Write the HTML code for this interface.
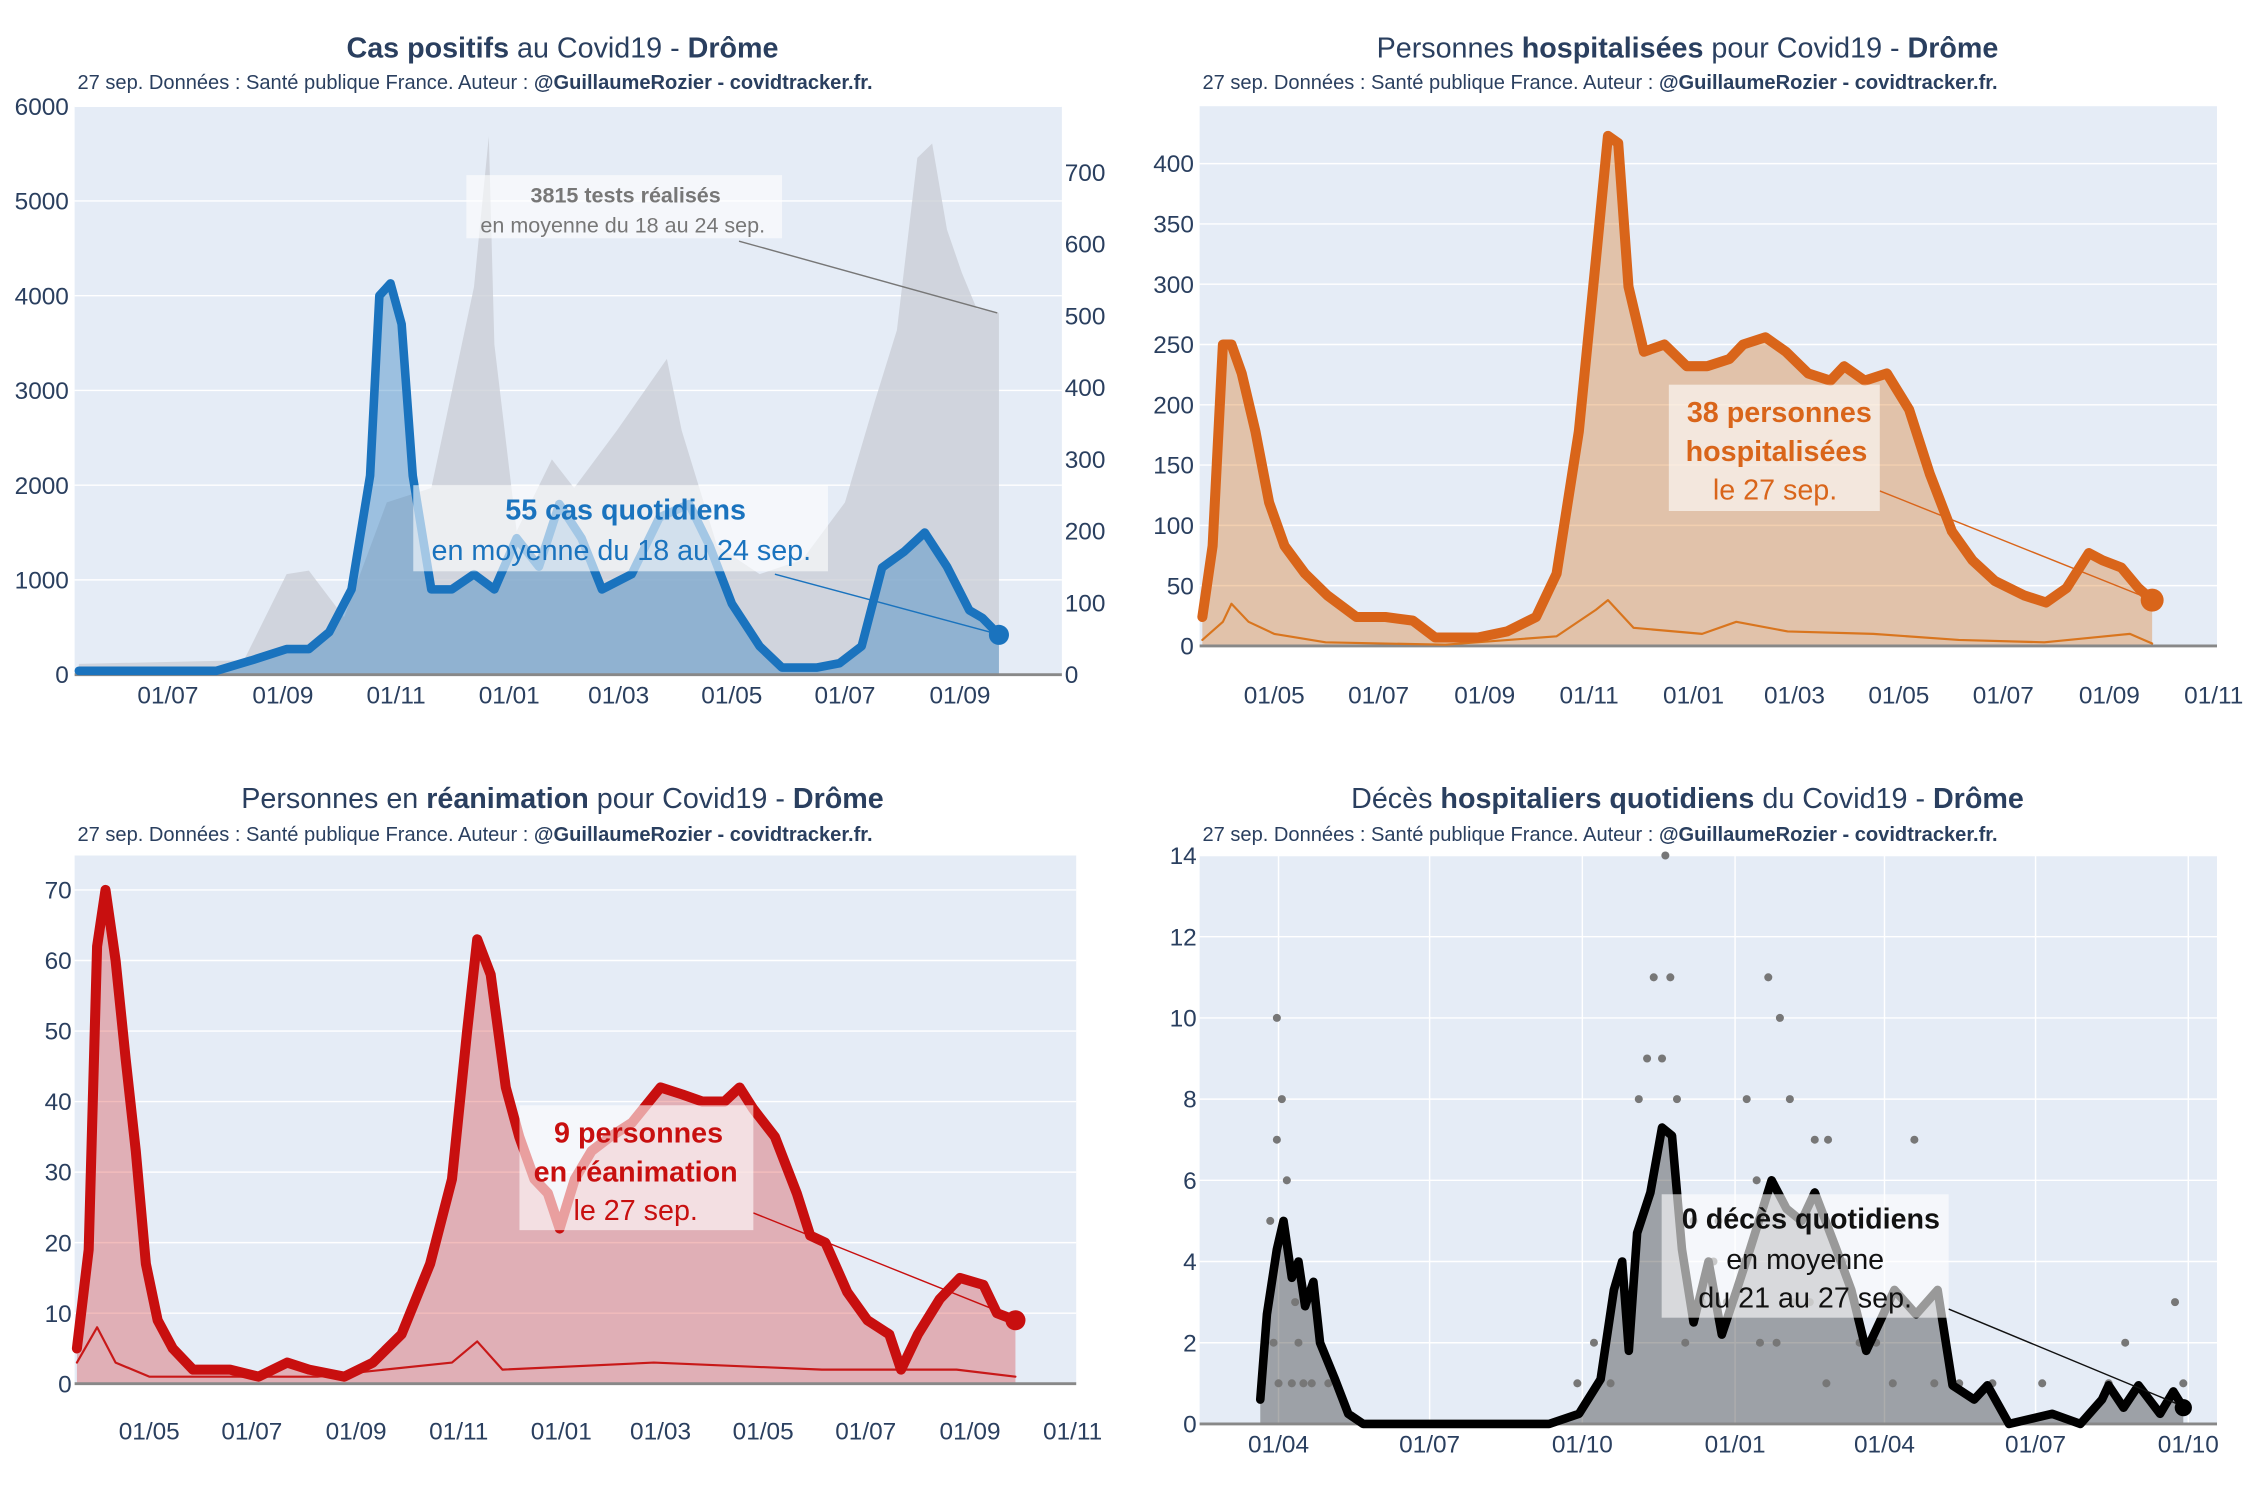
<!DOCTYPE html>
<html><head><meta charset="utf-8">
<style>
html,body{margin:0;padding:0;background:#fff;}
svg{display:block;font-family:"Liberation Sans",sans-serif;}
</style></head>
<body>
<svg id="root" width="2250" height="1500" viewBox="0 0 1568 1045" preserveAspectRatio="none" xmlns="http://www.w3.org/2000/svg"></svg>
<script>
// ===== Chart 1: cases (days since 2020-07-01) =====
const casesDays=[-48,26,45,64,76,87,99,109,114,120,126,132,142,153,165,176,188,200,211,223,234,250,265,281,292,304,319,331,350,362,374,385,397,408,420,432,439,448];
const casesValues=[40,40,150,270,270,450,900,2100,4000,4130,3700,2100,900,900,1060,900,1440,1140,1800,1440,900,1060,1660,1800,1360,750,300,75,75,120,300,1130,1300,1500,1140,680,600,420];
const testsDays=[-48,41,64,76,95,118,142,165,173,176,188,207,219,242,269,277,296,319,342,365,381,393,404,412,420,428,436,448];
const testsValues=[15,20,140,145,80,240,260,540,750,460,200,300,260,340,440,340,180,140,160,240,380,480,720,740,620,560,510,504];
const c1XTicks=["01/07","01/09","01/11","01/01","01/03","01/05","01/07","01/09"];
const c1XTickDays=[0,62,123,184,243,304,365,427];
const c1YTicks=[0,1000,2000,3000,4000,5000,6000];
const c1Y2Ticks=[0,100,200,300,400,500,600,700];
// ===== Chart 2: hospitalised (days since 2020-05-01) =====
const hospDays=[-42,-36,-30,-25,-19,-11,-3,6,18,31,48,65,81,94,119,136,153,165,178,188,195,201,207,216,228,241,253,266,274,287,299,312,325,333,345,358,371,383,396,408,421,438,451,463,476,484,495,505,513];
const hospValues=[24,83,250,250,226,178,119,83,60,42,24,24,21,7,7,12,24,60,178,321,423,417,298,244,250,232,232,238,250,256,244,226,220,232,220,226,196,143,95,71,54,42,36,48,77,71,65,48,38];
const admDays=[-42,-30,-25,-15,0,30,100,165,188,195,210,250,270,300,350,400,450,500,513];
const admValues=[5,20,35,20,10,3,1,8,30,38,15,10,20,12,10,5,3,10,2];
const c2XTicks=["01/05","01/07","01/09","01/11","01/01","01/03","01/05","01/07","01/09","01/11"];
const c2XTickDays=[0,61,123,184,245,304,365,426,488,549];
const c2YTicks=[0,50,100,150,200,250,300,350,400];
// ===== Chart 3: ICU (days since 2020-05-01) =====
const icuDays=[-43,-36,-31,-26,-20,-14,-8,-2,5,14,26,48,65,82,95,116,133,150,167,180,189,195,203,212,220,229,237,244,253,263,274,287,304,317,329,342,351,359,372,385,393,402,415,427,440,447,457,470,482,496,504,515];
const icuValues=[5,19,62,70,60,46,33,17,9,5,2,2,1,3,2,1,3,7,17,29,50,63,58,42,35,29,27,22,29,33,35,37,42,41,40,40,42,39,35,27,21,20,13,9,7,2,7,12,15,14,10,9];
const icuAdmDays=[-43,-31,-20,0,100,180,195,210,300,400,480,515];
const icuAdmValues=[3,8,3,1,1,3,6,2,3,2,2,1];
const c3XTicks=c2XTicks;
const c3XTickDays=c2XTickDays;
const c3YTicks=[0,10,20,30,40,50,60,70];
// ===== Chart 4: deaths (days since 2020-04-01) =====
const deathDays=[-11,-7,-1,3,8,12,16,21,25,34,42,51,163,181,194,202,207,211,216,224,231,237,243,250,259,267,276,284,297,306,315,323,336,345,354,362,371,384,397,406,419,427,440,466,483,496,500,509,518,531,539,545];
const deathValues=[0.6,2.7,4.3,5,3.6,4,2.9,3.5,2,1.1,0.25,0,0,0.25,1.1,3.3,4,1.8,4.7,5.7,7.3,7.1,4.3,2.5,4,2.2,3.3,4.3,6,5.3,5,5.7,4.3,3.3,1.8,2.5,3.3,2.7,3.3,0.95,0.6,0.95,0,0.25,0,0.6,0.95,0.4,0.95,0.25,0.8,0.4];
const dotDays=[-1,2,-1,5,-5,3,-8,0,8,12,20,30,-10,-3,10,15,226,233,236,222,231,217,240,295,302,282,308,323,331,383,288,250,262,270,300,320,340,360,200,210,215,245,255,265,280,290,310,330,350,370,395,410,430,460,500,510,540,545,180,190];
const dotValues=[10,8,7,6,5,5,2,1,1,2,1,1,1,2,3,1,11,14,11,9,9,8,8,11,10,8,8,7,7,7,6,5,4,3,2,3,4,2,1,3,4,2,3,5,4,2,3,1,2,1,1,1,1,1,1,2,3,1,1,2];
const c4XTicks=["01/04","01/07","01/10","01/01","01/04","01/07","01/10"];
const c4XTickDays=[0,91,183,275,365,456,548];
const c4YTicks=[0,2,4,6,8,10,12,14];

const NS="http://www.w3.org/2000/svg";
const root=document.getElementById('root');
function el(tag,attrs,parent){const e=document.createElementNS(NS,tag);for(const k in attrs)e.setAttribute(k,attrs[k]);(parent||root).appendChild(e);return e;}
function lin(d0,d1,r0,r1){return v=>r0+(v-d0)*(r1-r0)/(d1-d0);}

function frame(p,name){
  const g=el('g',{});
  
  
  const bg=el('rect',{x:p.x0,y:p.y0,width:p.x1-p.x0,height:p.y1-p.y0,fill:'#e5ecf6'},g);
  
  
  return g;
}
function yAxis(g,ticks,sy,x0,x1,lx,anchor,grid,name){
  ticks.forEach(t=>{
    const y=sy(t);
    if(grid){const l=el('line',{x1:x0,x2:x1,y1:y,y2:y,stroke:'#fff','stroke-width':1},g);
      
      }
    const tx=el('text',{x:lx,y:y+6,'font-size':17,fill:'#2a3f5f','text-anchor':anchor},g);
    tx.textContent=t;
    
    
  });
}
function xAxis(g,labels,days,sx,ly,vgrid,y0,y1){
  labels.forEach((s,i)=>{
    const x=sx(days[i]);
    if(vgrid){const l=el('line',{x1:x,x2:x,y1:y0,y2:y1,stroke:'#fff','stroke-width':1},g);
      
      }
    const tx=el('text',{x:x,y:ly,'font-size':17,fill:'#2a3f5f','text-anchor':'middle'},g);
    tx.textContent=s;
    
    
  });
}
function pathD(ds,vs,sx,sy,step){
  let d='';
  ds.forEach((t,i)=>{const x=sx(t),y=sy(vs[i]);
    if(i===0)d+='M'+x+' '+y;
    else if(step){d+=' H'+x+' V'+y;}
    else d+=' L'+x+' '+y;});
  return d;
}
function area(g,ds,vs,sx,sy,fill,op,name){
  const d=pathD(ds,vs,sx,sy,false)+' L'+sx(ds[ds.length-1])+' '+sy(0)+' L'+sx(ds[0])+' '+sy(0)+' Z';
  const p=el('path',{d:d,fill:fill,'fill-opacity':op,stroke:'none'},g);
  
  
}
function line(g,ds,vs,sx,sy,color,w,name){
  const p=el('path',{d:pathD(ds,vs,sx,sy,false),fill:'none',stroke:color,'stroke-width':w,'stroke-linejoin':'round','stroke-linecap':'round'},g);
  
  
}
function title(cx,y,parts,name){
  const t=el('text',{x:cx,y:y,'font-size':20,fill:'#2a3f5f','text-anchor':'middle'});
  
  
  parts.forEach(p=>{const s=el('tspan',{'font-weight':p[1]?'bold':'normal'},t);s.textContent=p[0];});
}
function subtitle(x,y){
  const t=el('text',{x:x,y:y,'font-size':14,fill:'#2a3f5f'});
  
  
  const a=el('tspan',{},t);a.textContent='27 sep. Données : Santé publique France. Auteur : ';
  const b=el('tspan',{'font-weight':'bold'},t);b.textContent='@GuillaumeRozier - covidtracker.fr.';
}
function annot(g,box,lines,color,lx1,ly1,lx2,ly2,name){
  el('line',{x1:lx1,y1:ly1,x2:lx2,y2:ly2,stroke:color,'stroke-width':1},g);
  const r=el('rect',{x:box[0],y:box[1],width:box[2],height:box[3],fill:'#fff','fill-opacity':0.6},g);
  
  
  lines.forEach(L=>{
    const t=el('text',{x:L[1],y:L[2],'font-size':L[4]||20,fill:color,'text-anchor':'middle','font-weight':L[3]?'bold':'normal'},g);
    t.textContent=L[0];
    
    
  });
}
function dot(g,x,y,r,color,name){
  const c=el('circle',{cx:x,cy:y,r:r,fill:color},g);
  
  
}

// ---------- Chart 1 ----------
(function(){
  const p={x0:52,x1:740,y0:74,y1:470};
  const sx=lin(0,427,117,669), sy=lin(0,6000,470,74), sy2=lin(0,700,470,120);
  const g=frame(p,'cases-chart');
  yAxis(g,c1YTicks,sy,p.x0,p.x1,48,'end',true,'y-tick-label');
  yAxis(g,c1Y2Ticks,sy2,p.x0,p.x1,742,'start',false,'y2-tick-label');
  area(g,testsDays,testsValues,sx,sy2,'#c8ccd4',0.75,'tests-area');
  area(g,casesDays,casesValues,sx,sy,'#2f7fc1',0.4,'cases-area');
  el('line',{x1:p.x0,x2:p.x1,y1:470,y2:470,stroke:'#888','stroke-width':2},g);
  line(g,casesDays,casesValues,sx,sy,'#1a73be',6,'cases-line');
  xAxis(g,c1XTicks,c1XTickDays,sx,490,false);
  annot(g,[325,122,220,44],[['3815 tests réalisés',436,141,true,15],['en moyenne du 18 au 24 sep.',434,162,false,15]],'#777',515,168,695,218,'tests-annotation');
  annot(g,[288,338,289,60],[['55 cas quotidiens',436,362,true],['en moyenne du 18 au 24 sep.',433,390,false]],'#1a73be',540,400,696,442,'cases-annotation');
  dot(g,sx(casesDays[casesDays.length-1]),sy(casesValues[casesValues.length-1]),7,'#1a73be','cases-last-point');
  title(392,40,[['Cas positifs',1],[' au Covid19 - ',0],['Drôme',1]],'cases-title');
  subtitle(54,62);
})();

// ---------- Chart 2 ----------
(function(){
  const p={x0:836,x1:1545,y0:74,y1:450};
  const sx=lin(0,488,888,1470), sy=lin(0,400,450,114);
  const g=frame(p,'hosp-chart');
  yAxis(g,c2YTicks,sy,p.x0,p.x1,832,'end',true,'y-tick-label');
  area(g,hospDays,hospValues,sx,sy,'#d9751e',0.35,'hosp-area');
  el('line',{x1:p.x0,x2:p.x1,y1:450,y2:450,stroke:'#888','stroke-width':2},g);
  line(g,admDays,admValues,sx,sy,'#d9751e',1.5,'admissions-line');
  line(g,hospDays,hospValues,sx,sy,'#d9651a',7,'hosp-line');
  xAxis(g,c2XTicks,c2XTickDays,sx,490,false);
  annot(g,[1163,268,147,88],[['38 personnes',1240,294,true],['hospitalisées',1238,321,true],['le 27 sep.',1237,348,false]],'#d9651a',1310,342,1500,418,'hosp-annotation');
  dot(g,sx(hospDays[hospDays.length-1]),sy(hospValues[hospValues.length-1]),8,'#d9651a','hosp-last-point');
  title(1176,40,[['Personnes ',0],['hospitalisées',1],[' pour Covid19 - ',0],['Drôme',1]],'hosp-title');
  subtitle(838,62);
})();

// ---------- Chart 3 ----------
(function(){
  const p={x0:52,x1:750,y0:596,y1:964};
  const sx=lin(0,488,104,676), sy=lin(0,70,964,620);
  const g=frame(p,'icu-chart');
  yAxis(g,c3YTicks,sy,p.x0,p.x1,50,'end',true,'y-tick-label');
  area(g,icuDays,icuValues,sx,sy,'#d42020',0.3,'icu-area');
  el('line',{x1:p.x0,x2:p.x1,y1:964,y2:964,stroke:'#888','stroke-width':2},g);
  line(g,icuAdmDays,icuAdmValues,sx,sy,'#c81818',1.5,'icu-admissions-line');
  line(g,icuDays,icuValues,sx,sy,'#c80f0f',7,'icu-line');
  xAxis(g,c3XTicks,c3XTickDays,sx,1003,false);
  annot(g,[362,770,163,87],[['9 personnes',445,796,true],['en réanimation',443,823,true],['le 27 sep.',443,850,false]],'#c80f0f',525,845,707,918,'icu-annotation');
  dot(g,sx(icuDays[icuDays.length-1]),sy(icuValues[icuValues.length-1]),7,'#c80f0f','icu-last-point');
  title(392,563,[['Personnes en ',0],['réanimation',1],[' pour Covid19 - ',0],['Drôme',1]],'icu-title');
  subtitle(54,586);
})();

// ---------- Chart 4 ----------
(function(){
  const p={x0:836,x1:1545,y0:596,y1:992};
  const sx=lin(0,548,891,1525), sy=lin(0,14,992,596);
  const g=frame(p,'deaths-chart');
  yAxis(g,c4YTicks,sy,p.x0,p.x1,834,'end',true,'y-tick-label');
  xAxis(g,c4XTicks,c4XTickDays,sx,1012,true,p.y0,p.y1);
  area(g,deathDays,deathValues,sx,sy,'#333',0.4,'deaths-area');
  dotDays.forEach((d,i)=>{
    const c=el('circle',{cx:sx(d),cy:sy(dotValues[i]),r:2.8,fill:'#777'},g);
    
    
  });
  el('line',{x1:p.x0,x2:p.x1,y1:992,y2:992,stroke:'#888','stroke-width':2},g);
  line(g,deathDays,deathValues,sx,sy,'#000',6,'deaths-line');
  annot(g,[1158,832,200,86],[['0 décès quotidiens',1262,856,true],['en moyenne',1258,884,false],['du 21 au 27 sep.',1258,911,false]],'#111',1358,912,1522,980,'deaths-annotation');
  dot(g,sx(deathDays[deathDays.length-1]),sy(deathValues[deathValues.length-1]),6,'#000','deaths-last-point');
  title(1176,563,[['Décès ',0],['hospitaliers quotidiens',1],[' du Covid19 - ',0],['Drôme',1]],'deaths-title');
  subtitle(838,586);
})();
</script>
</body></html>
